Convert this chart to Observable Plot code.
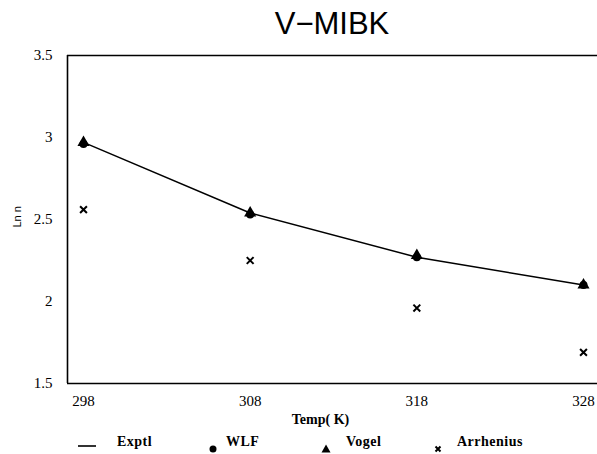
<!DOCTYPE html>
<html><head><meta charset="utf-8">
<script src="https://cdn.jsdelivr.net/npm/d3@7"></script>
<script src="https://cdn.jsdelivr.net/npm/@observablehq/plot@0.6"></script>
<style>
body{margin:0;background:#fff;}
#wrap{position:relative;width:597px;height:454px;overflow:hidden;background:#fff;}
#title{position:absolute;left:67px;right:0;top:6px;text-align:center;font:31px "Liberation Sans",Arial,sans-serif;color:#000;}
#chart{position:absolute;left:0;top:45px;}
#chart g[aria-label$="tick label"] text{font-family:"Liberation Serif","Times New Roman",serif;}
.leg{position:absolute;top:434px;font:bold 14px "Liberation Serif",serif;color:#000;letter-spacing:0.5px;}
.mk{position:absolute;}
</style></head>
<body><div id="wrap">
<div id="title">V−MIBK</div>
<div id="chart"></div>
</div>
<script>
const temps = [298, 308, 318, 328];
const exptl = [2.97, 2.54, 2.27, 2.10];
const wlf = [2.96, 2.53, 2.27, 2.10];
const vogel = [2.97, 2.54, 2.28, 2.10];
const arrhenius = [2.56, 2.25, 1.96, 1.69];
const xTicks = [298, 308, 318, 328];
const yTicks = [1.5, 2, 2.5, 3, 3.5];
const xDomain = [297.04, 328.84];
const yDomain = [1.5, 3.5];
const legendLabels = ["Exptl", "WLF", "Vogel", "Arrhenius"];

const data = temps.map((t, i) => ({t, exptl: exptl[i], wlf: wlf[i], vogel: vogel[i], arr: arrhenius[i]}));
const serif = "Liberation Serif";

const plot = Plot.plot({
  width: 597,
  height: 388,
  marginLeft: 67,
  marginRight: 0,
  marginTop: 10,
  marginBottom: 50,
  style: {fontFamily: serif, fontSize: "15px", color: "#000", background: "#fff"},
  x: {domain: xDomain, ticks: xTicks, tickFormat: d => String(d), label: null},
  y: {domain: yDomain, ticks: yTicks, tickFormat: d => String(d), label: null},
  marks: [
    Plot.axisX({ticks: xTicks, tickSize: 0, tickPadding: 12, tickFormat: d => String(d), fontSize: 15, fontFamily: serif}),
    Plot.axisY({ticks: yTicks, tickSize: 0, tickPadding: 15, tickFormat: d => String(d), fontSize: 15, fontFamily: serif}),
    Plot.ruleY(yDomain, {stroke: "#000", strokeWidth: 1.6}),
    Plot.ruleX([xDomain[0]], {stroke: "#000", strokeWidth: 1.6}),
    Plot.line(data, {x: "t", y: "exptl", stroke: "#000", strokeWidth: 1.5}),
    Plot.dot(data, {x: "t", y: "wlf", symbol: "circle", fill: "#000", r: 4}),
    Plot.dot(data, {x: "t", y: "vogel", symbol: "triangle", fill: "#000", r: 4.5}),
    Plot.dot(data, {x: "t", y: "arr", symbol: "times", stroke: "#000", strokeWidth: 2, r: 3.2}),
    Plot.text(["Temp( K)"], {frameAnchor: "bottom", dy: 40, dx: -12, fontWeight: "bold", fontSize: 14, fontFamily: serif}),
    Plot.text(["Ln n"], {frameAnchor: "left", dx: -50, dy: 8, rotate: -90, fontFamily: "Liberation Sans", fontSize: 11})
  ]
});
document.getElementById("chart").appendChild(plot);

// legend
const wrap = document.getElementById("wrap");
const legPos = [[117, 88, "line"], [226, 213, "circle"], [346, 326, "triangle"], [457, 438, "times"]];
legPos.forEach(([tx, mx, kind], i) => {
  const t = document.createElement("div");
  t.className = "leg"; t.style.left = tx + "px"; t.textContent = legendLabels[i];
  wrap.appendChild(t);
  const ns = "http://www.w3.org/2000/svg";
  const s = document.createElementNS(ns, "svg");
  s.setAttribute("width", 20); s.setAttribute("height", 20);
  s.setAttribute("class", "mk");
  s.style.left = (mx - 10) + "px"; s.style.top = (kind === "line" ? 436 : 439) + "px";
  s.innerHTML = kind === "line" ? '<line x1="0" x2="18" y1="10" y2="10" stroke="#000" stroke-width="1.6"/>'
    : kind === "circle" ? '<circle cx="10" cy="10" r="3.5" fill="#000"/>'
    : kind === "triangle" ? '<path d="M10,5.5L14.5,13.5L5.5,13.5Z" fill="#000"/>'
    : '<path d="M7.5,7.5L12.5,12.5M12.5,7.5L7.5,12.5" stroke="#000" stroke-width="2"/>';
  wrap.appendChild(s);
});
</script>
</body></html>
